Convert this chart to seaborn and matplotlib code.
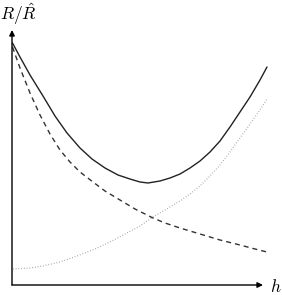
import matplotlib
matplotlib.use("Agg")
import matplotlib.pyplot as plt
import seaborn as sns
import pandas as pd
import numpy as np

# --- data (pixel readings converted to axis units) ---
solid_x = [12.5, 20, 30, 43, 55, 67, 80, 92, 105, 118, 130, 140, 148, 160, 170,
           180, 190, 200, 210, 220, 230, 240, 250, 260, 267]
solid_y = [43, 57, 75, 96, 116, 133, 148, 159, 168, 175, 179, 182, 183, 181, 178,
           174, 168, 161, 152, 141, 127, 112, 97, 80, 67]

dashed_x = [12.5, 20, 30, 40, 50, 60, 70, 80, 93, 105, 120, 135, 153, 165, 180,
            200, 220, 240, 255, 267]
dashed_y = [47, 68, 93, 115, 134, 150, 162, 172, 182, 191, 200, 209, 218, 223, 228,
            234, 240, 245, 249, 252]

dotted_x = [13, 30, 43, 60, 77, 95, 110, 125, 140, 153, 165, 180, 190, 200, 210,
            220, 230, 240, 250, 260, 267]
dotted_y = [269, 268, 266, 262, 256, 249, 242, 234, 226, 217, 210, 201, 194, 186,
            176, 165, 152, 138, 124, 110, 99]

X0, Y0, S = 12.0, 285.0, 250.0  # origin pixel and scale


def to_h(xs):
    return [(x - X0) / S for x in xs]


def to_r(ys):
    return [(Y0 - y) / S for y in ys]


df_solid = pd.DataFrame({"h": to_h(solid_x), "R": to_r(solid_y)})
df_dashed = pd.DataFrame({"h": to_h(dashed_x), "R": to_r(dashed_y)})
df_dotted = pd.DataFrame({"h": to_h(dotted_x), "R": to_r(dotted_y)})

sns.set_style("white")
plt.rcParams["mathtext.fontset"] = "cm"

W, H = 282, 295
fig = plt.figure(figsize=(W / 100, H / 100), dpi=100)
ax = fig.add_axes([0, 0, 1, 1])
ax.set_xlim((0 - X0) / S, (W - X0) / S)
ax.set_ylim((Y0 - H) / S, (Y0 - 0) / S)
ax.axis("off")

sns.lineplot(data=df_dotted, x="h", y="R", ax=ax, sort=False, color="#9a9a9a",
             lw=0.9, linestyle=(0, (0.6, 1.6)))
sns.lineplot(data=df_dashed, x="h", y="R", ax=ax, sort=False, color="#333333",
             lw=1.0, linestyle=(0, (3.6, 2.9)))
sns.lineplot(data=df_solid, x="h", y="R", ax=ax, sort=False, color="#222222",
             lw=1.0)

arrow = dict(arrowstyle="-|>", lw=1.0, color="black", mutation_scale=8,
             shrinkA=0, shrinkB=0)
ax.annotate("", xy=((263 - X0) / S, 0), xytext=(0, 0), arrowprops=arrow)
ax.annotate("", xy=(0, (Y0 - 30) / S), xytext=(0, 0), arrowprops=arrow)

ax.text((0 - X0) / S, (Y0 - 20) / S, r"$R/\hat{R}$", fontsize=12.5,
        ha="left", va="baseline", color="black")
ax.text((270 - X0) / S, (Y0 - 292) / S, r"$h$", fontsize=12.5,
        ha="left", va="baseline", color="black")

fig.savefig("out.png", dpi=100)
